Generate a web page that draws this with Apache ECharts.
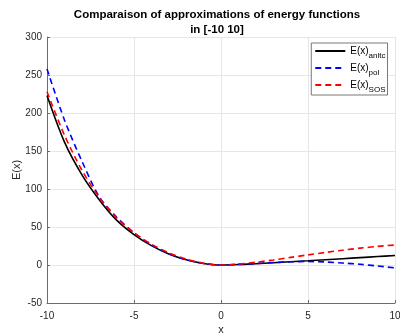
<!DOCTYPE html>
<html>
<head>
<meta charset="utf-8">
<script src="https://cdn.jsdelivr.net/npm/echarts@6/dist/echarts.min.js"></script>
<style>html,body{margin:0;padding:0;background:#fff}#c{width:400px;height:335px}</style>
</head>
<body>
<div id="c"></div>
<script>
var xs = [-10,-9,-8,-7,-6,-5,-4,-3,-2,-1,0,1,2,3,4,5,6,7,8,9,10];
var anltc = [223,162,119,86,59,40,25.5,14.5,6.8,2,0,0.6,1.7,2.9,4.2,5.5,6.9,8.3,9.7,11.1,12.5];
var pol = [258,191,137,90,63,42.5,26.5,15,7,2,0,0.8,2.0,3.2,4.2,4.6,4.0,2.6,0.9,-1.3,-3.8];
var sos = [228,171,125,89,62,42.5,27.5,16,7.8,2.3,0,1.2,3.6,6.6,10,13.3,16.5,19.5,22.2,24.5,26.3];
var seriesNames = ['anltc','pol','SOS'];
var seriesColors = ['#000000','#0000ff','#ff0000'];
var titleText = 'Comparaison of approximations of energy functions\nin [-10 10]';

function pairs(ys){ return xs.map(function(x,i){ return [x, ys[i]]; }); }
var allY = [anltc, pol, sos];
var FONT = 'Liberation Sans, Arial, sans-serif';
var axisColor = '#262626';

var chart = echarts.init(document.getElementById('c'), null, {renderer:'canvas'});
chart.setOption({
  animation: false,
  backgroundColor: '#fff',
  title: {
    text: titleText,
    left: 212, top: 2, textAlign: 'center',
    textStyle: {fontFamily: FONT, fontSize: 11.5, fontWeight: 'bold', color: '#000', lineHeight: 15}
  },
  grid: {left: 47, right: 5, top: 37, bottom: 32, containLabel: false, outerBoundsMode: 'none'},
  legend: {
    orient: 'vertical', right: 12.5, top: 43,
    backgroundColor: '#fff', borderColor: '#555', borderWidth: 0.8,
    padding: [0, 2, 1, 3], itemGap: 0, itemWidth: 30, itemHeight: 10,
    itemStyle: {opacity: 0},
    data: seriesNames,
    formatter: function(n){ return '{n|E(x)}{s|' + n + '}'; },
    textStyle: {
      fontFamily: FONT, color: '#000',
      rich: {
        n: {fontFamily: FONT, fontSize: 10, color: '#000', lineHeight: 18, verticalAlign: 'middle'},
        s: {fontFamily: FONT, fontSize: 8, color: '#000', lineHeight: 9, padding: [9,0,0,0], verticalAlign: 'bottom'}
      }
    }
  },
  xAxis: {
    type: 'value', min: -10, max: 10, interval: 5,
    name: 'x', nameLocation: 'middle', nameGap: 21, nameMoveOverlap: false,
    nameTextStyle: {fontFamily: FONT, fontSize: 11, color: axisColor},
    axisLine: {show: true, onZero: false, lineStyle: {color: '#6b6b6b', width: 1}},
    axisTick: {show: true, inside: true, length: 3, lineStyle: {color: '#6b6b6b'}},
    axisLabel: {fontFamily: FONT, fontSize: 10, color: axisColor, margin: 8},
    splitLine: {show: true, lineStyle: {color: '#e6e6e6', width: 1}}
  },
  yAxis: {
    type: 'value', min: -50, max: 300, interval: 50,
    name: 'E(x)', nameLocation: 'middle', nameGap: 25, nameRotate: 90, nameMoveOverlap: false,
    nameTextStyle: {fontFamily: FONT, fontSize: 11, color: axisColor},
    axisLine: {show: true, onZero: false, lineStyle: {color: '#6b6b6b', width: 1}},
    axisTick: {show: true, inside: true, length: 3, lineStyle: {color: '#6b6b6b'}},
    axisLabel: {fontFamily: FONT, fontSize: 10, color: axisColor, margin: 5},
    splitLine: {show: true, lineStyle: {color: '#e6e6e6', width: 1}}
  },
  series: seriesNames.map(function(n, i){
    return {
      name: n, type: 'line', data: pairs(allY[i]),
      showSymbol: false, symbol: 'none', smooth: 0.3,
      lineStyle: {color: seriesColors[i], width: 1.6, type: i === 0 ? 'solid' : [6,4]},
      itemStyle: {color: seriesColors[i]},
      z: i === 0 ? 2 : 3
    };
  })
});
</script>
</body>
</html>
